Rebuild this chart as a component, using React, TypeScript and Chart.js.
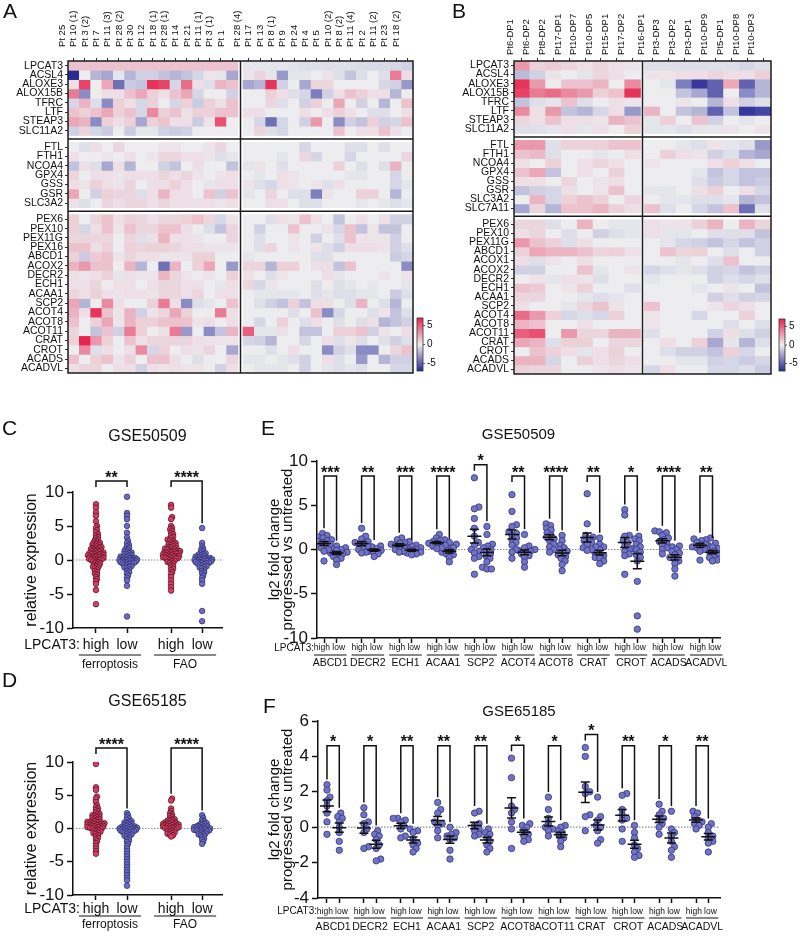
import React, { useEffect, useRef } from "react";
import { Chart, registerables } from "chart.js";

Chart.register(...registerables);

const FONT = "'Liberation Sans', Arial, Helvetica, sans-serif";
Chart.defaults.font.family = FONT;
Chart.defaults.color = "#111";

// ---------------- Panel A (heatmap) ----------------
const A_ROWS = ["LPCAT3","ACSL4","ALOXE3","ALOX15B","TFRC","LTF","STEAP3","SLC11A2",
  "FTL","FTH1","NCOA4","GPX4","GSS","GSR","SLC3A2",
  "PEX6","PEX10","PEX11G","PEX16","ABCD1","ACOX2","DECR2","ECH1","ACAA1","SCP2","ACOT4","ACOT8","ACOT11","CRAT","CROT","ACADS","ACADVL"];
const A_BLOCKS = [8, 7, 17];
const A_COLS = ["Pt 25","Pt 10 (1)","Pt 3 (2)","Pt 7","Pt 11 (3)","Pt 28 (2)","Pt 30","Pt 12","Pt 18 (1)","Pt 28 (1)","Pt 14","Pt 21","Pt 11 (1)","Pt 3 (1)","Pt 1",
  "Pt 28 (4)","Pt 17","Pt 13","Pt 8 (1)","Pt 9","Pt 24","Pt 4","Pt 5","Pt 10 (2)","Pt 8 (2)","Pt 11 (4)","Pt 2","Pt 11 (2)","Pt 23","Pt 18 (2)"];
const A_SPLIT = 15;
const A_VALUES = [
  [1.5,1.5,1.5,1.5,1.5,1.5,1.5,1.5,1.5,1.5,1.5,1.5,1.5,1.5,1.5, -0.3,-0.3,-0.3,-0.3,-0.4,-0.5,-0.5,-0.5,-0.5,-0.5,-0.6,-0.7,-0.7,-0.8,-1.0],
  [-7,0,-2,-2.5,-0.3,-2,-1,-1,-1.5,-2,-1.5,-0.8,0.3,-0.3,-2.5, 0.3,0.8,-0.3,-3,-0.3,-0.3,0,0.3,-0.5,-1.5,-0.5,0,-0.5,4,0.5],
  [0.5,6,0,2.5,-4.5,-1.2,-1.5,6.5,6,-0.8,4.5,0.5,-0.5,2,1.5, -2.5,-2,6.5,-1,0,-2.5,0.8,0.8,0,0,0,0,-0.8,-1,-3],
  [4,-3.5,0,0.5,0.5,1.5,2.5,1,0.5,1.5,2.5,-0.8,0,0,-1, 0,0,1,0.5,-0.5,-0.8,-4,-1,0.5,1.5,1,0.5,0.5,-2,0],
  [-0.8,2,-0.5,-3.5,1,0.5,-0.8,1,0,-0.8,1,-1.2,1,0.5,1.5, 0,0,0.8,-0.5,0,-1,1,0,2.5,0,-1,0,-2,0,1.5],
  [1.5,1,1.5,2.5,1,1.5,-0.8,3.5,1,1.5,0.5,1,1,1.5,1.5, 0.5,0.5,0,0,0,0.5,0,0.5,1,0.5,0,-0.5,-0.5,0,0.5],
  [2.5,2,-3.5,1,0.5,1,-2.5,1,1.5,0.5,0.5,-1.2,0.3,5.5,0, 0,-0.8,-4.5,-0.8,0,-1,3,0,-3.5,-1,-1.5,1,-1,-0.8,1.5],
  [-1,0.8,-0.8,-1.2,0,-1.2,-0.3,-0.3,-1,-1.2,-1,0,0,0,0, 0,0.8,-0.5,-0.8,0,0,0,0,1.5,0,0.5,0.5,1.5,0.5,0],
  [0,-0.5,0.5,0,0.8,0,0,0,0.3,0.3,0,0,0.3,0.8,0, 0,0,0,0,0,-0.8,0,0,0,-0.5,-0.5,0,-0.5,0,0],
  [0.5,0,0,0.3,0,0.5,0,0.3,0.8,0.8,0.5,0.5,0.3,-0.5,-0.3, 0,0,0,-0.3,0,0.8,-0.8,0,0,-0.8,0,0,0,0,0.8],
  [-1.5,0.5,-0.5,-2.5,0.5,-2,0,0,-1,-1.5,0,0.5,0,0,-1.5, -0.3,0.3,0,-0.5,0,0,0,0,1,0,-0.5,0,-0.5,2,0],
  [0.8,0,0.5,0.5,0.3,0.5,0.5,0.5,0.8,0.5,0.8,0.3,0,0.3,0.5, 0,-0.3,0,0.5,0.3,0,0,0,0,-0.3,-0.3,0,0,-0.8,0],
  [0.5,0.3,1,0.5,0.3,0.8,0,0.5,0.5,1,0.5,0,-0.3,0.5,0.5, 0.3,-0.5,-0.8,0.5,0.3,0,0.3,-0.5,0.5,0,0,0,0,-0.8,-0.3],
  [2.5,0,-1,1,0.8,0.8,-0.5,0.5,2,0.5,0.5,0,1.5,-1,1.5, -0.3,0,0.8,0,-0.5,-0.5,-4,0.3,0,0,1,1,0,-2,0],
  [0.5,-0.5,0,0.8,0.5,0.8,0.8,0.5,0.8,0.5,0.5,0.5,0.5,0.3,0.5, 0,0,0.5,0.5,0,-0.5,-0.5,0,0,0,-0.3,0,-0.3,-0.5,-0.3],
  [1,0,0.8,1.5,0.5,1,0.8,0.5,0.8,0.8,1,1.5,0.8,-0.8,0.3, 0,0,-0.5,0.5,0.3,1.5,0.5,0,-1.5,0,0.5,0,0.5,-1,-1],
  [1,-0.8,0.5,1.5,0.3,1.5,0.8,0.8,1.5,1.5,0.5,0,-0.5,-1.5,0.8, 0,-1,0,0,1.5,0,0,0.3,-0.8,1.5,-1.5,0.3,-1.5,-1.5,0],
  [0.8,0.8,0.8,0.8,0,0.8,-0.5,0.5,2,0.5,0.5,0.3,0,0,0.8, 0,-0.5,0,0,0.3,0,-1,0,-0.5,1.5,0.3,0.3,0.3,-1,0],
  [1.5,1.5,0.5,1,0,1,0.8,1,1,0.8,0.5,0.5,0.3,0.3,0.3, 0,-0.5,0.8,0,0.3,0,0.3,-0.5,-1,0.5,0.5,0.5,0.3,-1,-0.5],
  [1,-1.2,1.2,1.5,0.3,0.8,0.5,0.5,0.3,0.3,0.3,1,1,0,0, -0.3,0,0,0,0,0,-0.5,-0.5,0,0,0,0,0,-1.2,-0.8],
  [2,3,1.5,1.5,0,2,-2,0,-4.5,2,0,1,2.5,0,-3, 0.8,0.8,-2,1,1,0,0.5,0.5,-1.5,1.5,0,0,0,0,-3.5],
  [0.5,0.3,0.5,1,-0.3,0.5,0.3,0.3,2,0.8,0.3,0,0.3,0,1, 0.3,0,-0.5,0.3,0,0,0,0.5,-0.3,0,0,0,0.3,0,0.3],
  [0.5,0.5,0.8,0,0.5,0.5,0,0.5,0.8,0.8,0.5,0.5,0,-0.3,0.5, 0.8,-0.8,0.3,0,0,0,-0.5,0,-0.5,-0.3,0,-0.3,0,0,-0.3],
  [0.8,0.5,1,0.5,0.3,0.5,0.5,0.3,0.8,0.8,0.5,0.8,0,0.5,0.5, 0,-0.3,-0.3,-0.3,-0.3,0,-0.5,-0.3,-0.5,-0.5,-0.3,-0.3,0,-1.2,-0.5],
  [2.5,-2,0,3.5,0.5,0,0,1,4,0.5,-3.5,-0.5,-0.3,0,1.5, 0,-0.5,-1,-1.5,1,-1.5,0.5,0.5,0,-0.5,2,0,-0.5,-2,0],
  [2,0.5,6.5,1.5,0.3,2,-1,0.3,0.8,2.5,1,0,0,4,0.5, 0,0,0,0,-0.5,0,1.5,-3.5,-0.8,0,0,-0.5,0.3,-1.5,-0.5],
  [1.5,0,1,2.5,0.3,2,1,1,1.5,1.5,1.5,0.3,0.5,0,0.5, 0,-0.8,0,1,0,-0.5,0.5,0,-0.5,0,-0.5,0.5,-2,-1.5,-1],
  [0.8,0,-1.5,1.5,-1,4,1,0,0.5,4,-3,0,-3.5,-1.5,2, 5,-0.3,-0.3,0.5,0,-1.5,-1.5,0,1,1,1.5,-1,0.3,0,0.5],
  [1,7,3,1,0,1.5,0.5,0.8,0.8,0.8,0.8,0.5,0.3,0.3,0.3, -0.8,-1,-2,0,0,-0.8,0,0.5,-0.5,0.3,-0.5,0,-0.5,-1,-0.5],
  [0,3.5,-0.5,0.5,0,0.5,3.5,-0.8,1,0,0.5,0.3,0.8,0,-2.5, 0,0,-0.5,0,0.5,0,0,-3.5,-1,-0.5,-3.5,-3.5,0,0.8,1.5],
  [1.5,0,1,1.5,0.3,1,0,1.5,1.5,0.5,0,-0.5,0,0,0.8, -0.3,-0.3,0,-0.3,-0.5,-1,0,0.5,-0.5,0,-3,0,-2,-1,-1],
  [0.5,0.8,0.8,0,0.5,0.5,-1,0.5,0.3,0.5,0.3,0.3,0,-1,0.5, 0,-0.3,-0.3,-0.3,0,-1,0,-0.3,-0.5,-0.3,-0.5,0,0,-0.8,-0.8],
];

// ---------------- Panel B (heatmap) ----------------
const B_ROWS = ["LPCAT3","ACSL4","ALOXE3","ALOX15B","TFRC","LTF","STEAP3","SLC11A2",
  "FTL","FTH1","NCOA4","GPX4","GSS","GSR","SLC3A2","SLC7A11",
  "PEX6","PEX10","PEX11G","ABCD1","ACOX1","ACOX2","DECR2","ECH1","ACAA1","SCP2","ACOT4","ACOT8","ACOT11","CRAT","CROT","ACADS","ACADVL"];
const B_BLOCKS = [8, 8, 17];
const B_COLS = ["Pt6-DP1","Pt6-DP2","Pt8-DP2","Pt17-DP1","Pt10-DP7","Pt10-DP5","Pt15-DP1","Pt17-DP2",
  "Pt16-DP1","Pt3-DP3","Pt3-DP2","Pt3-DP1","Pt10-DP9","Pt5-DP1","Pt10-DP8","Pt10-DP3"];
const B_SPLIT = 8;
const B_VALUES = [
  [3,1,1.2,0.8,0.5,0.8,0.5,0.3, -0.5,-0.5,-0.5,-0.5,-0.5,-0.5,-0.8,-0.5],
  [-1.8,-1,0.3,0,-0.3,0.8,0.5,0, 0.3,0.3,0.5,0.5,0.8,0.5,0.5,1],
  [6.5,3,0,1.5,1.5,2,0,3.5, 0,-0.3,-4,-6.5,-5,2.5,-5,-2],
  [6,4,4.5,3.5,3,1,1.5,6.5, 0,0,-1.5,-2.5,-5,0,-3.5,-2],
  [-1.5,-0.5,-0.3,1.5,-0.5,0,0.5,0.3, 0,0,0.3,0,-2,0.5,-1,-0.5],
  [3.5,0.5,3,-1.5,-2,-0.8,0.5,-3, 2,0,-1.5,-2,-5,-1.5,-6.5,-6],
  [0.8,0.5,1.5,0.5,0.5,0.3,2,1.5, -0.3,1,0,1.5,-1,0,-0.3,0],
  [-0.5,-0.5,-0.3,0.5,-0.3,0.5,0,1, -0.3,-0.3,-0.5,-0.3,-0.3,0.3,0,0.3],
  [3,3,-0.5,1,1,1,1.5,1.5, 0,0,-0.3,-0.5,0.3,-0.3,-0.5,-3],
  [1.5,1.8,-0.5,0,0,-0.3,0,0.5, 0,1,0.5,0.3,-1,-0.5,-2,-2.5],
  [0.5,0,1,0,0.5,0.8,0.5,0, 0.3,0,0,0,0.5,1,0.5,0],
  [1.5,2.5,-1.5,0,0.5,0,1,0, 0,0,0,-0.3,-1.5,-0.8,-1.5,-1.5],
  [0.5,0.5,0,0.8,0,0.3,0.5,0, 0,0,0,-0.5,-1.2,-0.8,-1.5,-1.2],
  [-1.5,-1,-0.8,0.5,0,0.3,1.5,0, -0.3,-0.3,0,0.5,1,0,0.5,-0.8],
  [0,2,-0.8,1,1.5,1,0,0.8, 0,-0.3,-0.3,-0.5,-0.5,-0.3,-2,-1.5],
  [-2.5,0.8,-2,1.5,1.5,2,1,0.5, 1.5,-0.5,0,-0.8,-1.5,1.5,-4.5,-0.5],
  [0.8,0.8,-0.5,0,2,0,-0.3,-0.3, 0.5,0.3,0.3,1,2,0,2,0.8],
  [0.5,0.8,0,-0.5,0,-1,-0.5,-0.3, 0.5,-0.3,-0.3,0,-0.5,-0.5,-0.5,-1.5],
  [3,1.5,1,-0.5,0.5,0,0,0, 0,-0.3,-0.8,-1,-1.5,-0.8,-1.5,-1],
  [1,2.5,2,2,1.5,0.8,1,0.5, 0,1.5,0.8,1,0,-0.5,0,-1],
  [0.5,-0.5,0.3,0,0.5,0,0,0, 0,0,-0.3,0,-0.5,1.5,0,0],
  [-1,-1,0,0,1.5,-0.3,0,0.3, -0.8,-0.5,-0.3,-0.5,-1,-0.8,-1.5,-1],
  [0,0.3,-0.3,0.5,0.3,-0.5,0,0, -0.3,0,0,0,-1,-0.5,-0.8,-0.5],
  [1.5,1.2,0,0.3,1,0,0,-0.5, 0,0,0,-0.3,0,0.3,0,-1.5],
  [0.8,0.8,0,0,-0.3,-0.5,-0.3,0, 0,0,0,0,-1,-0.5,-1,-0.8],
  [0.5,0,0,-0.3,0.8,1.5,0.3,0, 1.5,0,0,0,0.3,0.8,0.5,0],
  [4.5,3,1,-0.8,-0.5,-0.8,1,0, 0.3,0,0,-0.8,0,0,1,0],
  [2,1.5,0,0,0.5,0,0,0, 0.3,0,0,0,0,-0.5,0,-0.5],
  [5,5.5,0,3,0.8,0.8,2,2, -0.5,0,0,0,-1,0.5,-0.5,-1],
  [2.5,2,-0.5,1,1,0,0.8,0.8, 0,0.5,0,1,-2.5,-0.3,-2,-0.5],
  [0,1.5,1,0.5,-0.3,0.5,1,0, 0,-0.5,-1,-1,-1.5,1,-0.8,0],
  [2,2,-0.8,0,1,0.5,0.8,0.5, 0,0,-0.3,-0.3,-1,-0.8,-1.2,-0.8],
  [1,0.8,0.8,0,0,0.3,0.5,0.3, -0.8,0.5,0,0,-0.8,-0.8,-0.5,-1.2],
];

const COLOR_MIN = -7;
const COLOR_MAX = 7;
const COLORBAR_TICKS = [5, 0, -5];

// ---------------- Panels C / D (relative expression) ----------------
const CD_LEVELS = ["high", "low", "high", "low"];
const CD_GROUP_NAMES = ["ferroptosis", "FAO"];
const C_STARS = ["**", "****"];
const D_STARS = ["****", "****"];
const C_FERRO_HIGH = [8.2,7.7,7.0,6.5,5.7,5.0,4.7,4.4,4.1,3.8,3.6,3.4,3.2,3.0,2.9,2.7,2.6,2.5,2.4,2.3,2.2,2.1,2.0,1.9,1.8,1.8,1.7,1.6,1.5,1.5,1.4,1.3,1.3,1.2,1.1,1.1,1.0,1.0,0.9,0.9,0.8,0.8,0.7,0.7,0.6,0.6,0.5,0.5,0.4,0.4,0.3,0.3,0.2,0.2,0.1,0.1,0.0,0.0,-0.1,-0.2,-0.3,-0.4,-0.5,-0.6,-0.7,-0.8,-0.9,-1.0,-1.1,-1.2,-1.4,-1.6,-1.8,-2.0,-2.2,-2.5,-2.8,-3.1,-3.5,-4.4,-6.5];
const C_FERRO_LOW = [9.3,6.9,6.5,6.0,5.0,4.0,3.3,2.8,2.5,2.2,2.0,1.8,1.6,1.5,1.3,1.2,1.1,1.0,0.9,0.8,0.7,0.6,0.5,0.5,0.4,0.3,0.3,0.2,0.2,0.1,0.1,0.0,0.0,0.0,-0.1,-0.1,-0.2,-0.2,-0.3,-0.3,-0.4,-0.4,-0.5,-0.5,-0.6,-0.7,-0.8,-0.9,-1.0,-1.1,-1.2,-1.4,-1.6,-1.8,-2.0,-2.3,-2.6,-3.0,-3.8,-8.3];
const C_FAO_HIGH = [8.1,7.7,6.3,6.0,5.0,4.7,4.5,4.3,4.0,3.8,3.6,3.4,3.2,3.0,2.9,2.8,2.6,2.5,2.4,2.3,2.2,2.1,2.0,1.9,1.8,1.7,1.7,1.6,1.5,1.5,1.4,1.3,1.3,1.2,1.2,1.1,1.1,1.0,1.0,0.9,0.9,0.8,0.8,0.7,0.7,0.6,0.6,0.5,0.5,0.4,0.4,0.3,0.3,0.2,0.2,0.1,0.0,-0.1,-0.2,-0.3,-0.4,-0.5,-0.7,-0.9,-1.1,-1.3,-1.5,-1.8,-2.1,-2.5,-3.0,-3.5,-4.0,-4.5];
const C_FAO_LOW = [4.7,2.5,2.0,1.7,1.5,1.3,1.1,1.0,0.9,0.8,0.7,0.6,0.5,0.4,0.4,0.3,0.3,0.2,0.2,0.1,0.1,0.0,0.0,0.0,-0.1,-0.1,-0.2,-0.2,-0.3,-0.3,-0.4,-0.4,-0.5,-0.5,-0.6,-0.7,-0.8,-0.9,-1.0,-1.1,-1.2,-1.4,-1.6,-1.8,-2.0,-2.3,-2.6,-3.0,-3.5,-7.5,-9.0];
const D_FERRO_HIGH = [9.7,6.2,5.8,4.8,4.5,4.0,3.5,3.2,3.0,2.8,2.6,2.4,2.2,2.1,2.0,1.9,1.8,1.7,1.6,1.5,1.4,1.3,1.2,1.1,1.0,1.0,0.9,0.9,0.8,0.8,0.7,0.7,0.6,0.6,0.5,0.5,0.4,0.4,0.3,0.3,0.2,0.2,0.1,0.1,0.0,0.0,-0.1,-0.2,-0.3,-0.4,-0.5,-0.6,-0.7,-0.8,-1.0,-1.2,-1.4,-1.6,-1.9,-2.2,-2.6,-3.0,-3.4,-3.8];
const D_FERRO_LOW = [2.3,2.0,1.7,1.5,1.3,1.1,1.0,0.9,0.8,0.7,0.6,0.5,0.4,0.3,0.3,0.2,0.2,0.1,0.1,0.0,0.0,0.0,-0.1,-0.1,-0.2,-0.2,-0.3,-0.3,-0.4,-0.4,-0.5,-0.5,-0.6,-0.7,-0.8,-0.9,-1.0,-1.1,-1.2,-1.4,-1.6,-1.8,-2.0,-2.3,-2.6,-3.0,-3.4,-3.8,-4.2,-4.6,-5.0,-5.4,-5.8,-6.2,-6.6,-7.0,-7.4,-7.8,-8.6];
const D_FAO_HIGH = [4.5,4.2,3.0,2.6,2.3,2.1,1.9,1.7,1.5,1.4,1.3,1.2,1.1,1.0,0.9,0.9,0.8,0.8,0.7,0.7,0.6,0.6,0.5,0.5,0.4,0.4,0.3,0.3,0.2,0.2,0.1,0.1,0.0,0.0,-0.1,-0.2,-0.3,-0.4,-0.5,-0.6,-0.7,-0.8,-0.9,-1.0,-1.2];
const D_FAO_LOW = [2.0,1.6,1.3,1.1,0.9,0.8,0.7,0.6,0.5,0.4,0.3,0.3,0.2,0.2,0.1,0.1,0.0,0.0,-0.1,-0.1,-0.2,-0.2,-0.3,-0.3,-0.4,-0.4,-0.5,-0.6,-0.7,-0.8,-0.9,-1.0,-1.1,-1.3,-1.5,-1.7,-2.0,-2.3];

// ---------------- Panel E (GSE50509, lg2 fold change) ----------------
const EF_LEVELS = ["high\u2002", "\u2002low"];
const E_GENES = ["ABCD1","DECR2","ECH1","ACAA1","SCP2","ACOT4","ACOT8","CRAT","CROT","ACADS","ACADVL"];
const E_STARS = ["***","**","***","****","*","**","****","**","*","****","**"];
const E_HIGH = [
  [1.8,1.6,1.4,1.3,1.1,1.0,0.9,0.8,0.6,0.4,0.2,0.0,-0.2,-1.3],
  [2.4,1.5,1.2,0.9,0.8,0.7,0.5,0.4,0.2,0.0,-0.3,-0.4],
  [1.3,1.1,0.9,0.8,0.7,0.6,0.5,0.3,0.2,0.0,-0.2,-0.3],
  [1.7,1.3,1.1,1.0,0.9,0.8,0.7,0.6,0.5,0.4,0.2,0.1],
  [8.1,4.8,4.6,3.5,2.4,1.5,0.8,0.5,0.0,-0.2,-0.4,-0.8,-1.0,-2.8],
  [6.2,4.3,2.8,2.6,2.0,1.8,1.6,1.3,1.1,0.8,0.5,0.0,-0.3,-1.0],
  [2.9,2.7,2.4,2.2,1.9,1.6,1.4,1.2,1.0,0.6,0.3,0.0,-0.3],
  [6.3,2.9,1.6,1.4,1.2,1.0,0.8,0.6,0.3,0.2,0.0,-0.1],
  [4.5,3.9,1.6,1.5,1.0,0.8,0.4,0.0,-0.2,-0.5,-0.7,-2.8],
  [2.1,2.0,1.9,1.6,1.3,1.1,0.9,0.7,0.5,0.2,0.0,-0.5],
  [1.3,1.2,1.1,1.0,0.8,0.6,0.5,0.3,0.2,0.0,-0.2,-1.2],
];
const E_LOW = [
  [0.4,0.3,0.2,0.1,0.0,-0.1,-0.3,-0.4,-0.5,-0.6,-0.8,-1.0,-1.2,-1.7],
  [0.5,0.4,0.3,0.1,0.0,-0.1,-0.2,-0.3,-0.5,-0.8],
  [0.5,0.4,0.2,0.1,0.0,-0.1,-0.2,-0.3,-0.4,-0.5,-0.6],
  [0.6,0.5,0.3,0.2,0.0,-0.2,-0.3,-0.5,-0.6,-0.9,-1.4],
  [2.6,1.7,0.6,0.4,0.2,0.0,-0.2,-0.5,-0.7,-1.0,-1.4,-2.0,-2.2,-2.2],
  [1.7,0.4,0.2,0.0,-0.1,-0.2,-0.3,-0.5,-0.7,-0.9,-1.4,-2.0],
  [1.6,1.0,0.5,0.2,0.0,-0.2,-0.4,-0.6,-0.8,-1.0,-1.3,-1.7,-2.4],
  [1.3,0.6,0.3,0.0,-0.3,-0.5,-0.7,-0.9,-1.0,-1.3,-1.6],
  [1.5,1.2,1.0,0.6,0.3,0.1,0.0,-0.3,-0.6,-0.9,-1.3,-3.6,-7.5,-9.0],
  [0.4,0.3,0.0,-0.2,-0.4,-0.6,-0.9,-1.1,-1.3,-1.6,-2.2,-3.0],
  [0.7,0.5,0.3,0.1,0.0,-0.2,-0.4,-0.5,-0.7,-0.9,-1.2,-1.3],
];

// ---------------- Panel F (GSE65185, lg2 fold change) ----------------
const F_GENES = ["ABCD1","DECR2","ECH1","ACAA1","SCP2","ACOT8","ACOT11","CRAT","CROT","ACADS","ACADVL"];
const F_STARS = ["*","*","**","**","**","*","*","*","**","*","**"];
const F_HIGH = [
  [2.4,2.1,1.7,1.5,1.2,0.8,0.3,-0.4],
  [1.1,0.7,0.3,0.2,-0.1,-0.3,-1.1,-1.2],
  [0.5,0.5,0.4,0.3,0.1,-0.1,-0.5,-0.6],
  [1.4,1.0,0.8,0.3,0.2,0.1,-0.2,-0.6],
  [0.9,0.8,0.2,0.1,-0.1,-0.2,-0.4,-0.5],
  [3.9,2.8,1.2,1.0,0.8,0.3,-0.1,-1.2],
  [1.7,1.0,0.5,0.2,0.0,-0.1,-0.2,-0.5],
  [4.5,4.0,2.3,2.0,1.9,0.7,0.6,-0.2],
  [1.9,1.8,1.0,0.7,0.5,0.4,-0.1,-0.8],
  [1.3,0.9,0.7,0.5,0.4,0.2,0.0,-0.4],
  [0.9,0.8,0.6,0.4,0.3,0.2,0.1,-0.1],
];
const F_LOW = [
  [0.8,0.6,0.5,0.3,0.0,-0.3,-0.8,-1.3],
  [-0.2,-0.4,-0.5,-0.7,-1.0,-1.2,-1.8,-1.9],
  [-0.1,-0.2,-0.3,-0.7,-0.9,-1.0,-1.2,-1.4],
  [0.0,-0.3,-0.4,-0.5,-0.6,-0.7,-1.3,-1.8],
  [-0.1,-0.3,-0.4,-0.6,-0.8,-1.0,-1.2,-1.4],
  [0.2,0.1,0.0,-0.2,-0.4,-0.5,-0.7,-0.8],
  [0.1,0.0,-0.2,-0.3,-0.5,-0.6,-0.8,-1.1],
  [1.7,0.6,0.4,0.1,0.0,-0.2,-0.7,-0.9],
  [0.1,-0.3,-0.6,-1.0,-1.2,-1.4,-1.6,-1.7],
  [0.9,-0.1,-0.3,-0.5,-0.8,-1.1,-1.3,-1.7],
  [0.2,0.0,-0.3,-0.5,-0.6,-0.8,-0.9,-1.4],
];

// ---------------- styling ----------------
const RED_FILL = "#d93d63";
const RED_EDGE = "#4d1122";
const BLUE_FILL = "#6c6dc2";
const BLUE_EDGE = "#272866";
const EF_FILL = "#7173c6";
const EF_EDGE = "#35367a";
const HEAT_MID = [237, 237, 240];
const HEAT_POS = [231, 38, 80];
const HEAT_NEG = [40, 42, 150];

function heatColor(v: number): string {
  const t = Math.max(-1, Math.min(1, v / COLOR_MAX));
  const end = t >= 0 ? HEAT_POS : HEAT_NEG;
  const a = Math.abs(t);
  const c = HEAT_MID.map((m, i) => Math.round(m + (end[i] - m) * a));
  return `rgb(${c[0]},${c[1]},${c[2]})`;
}

function heatmapConfig(o: any): any {
  const rowStart: number[] = [];
  const seps: number[] = [];
  let pos = 0;
  o.blocks.forEach((n: number, b: number) => {
    if (b > 0) { seps.push(pos + o.rowGap / 2); pos += o.rowGap; }
    for (let k = 0; k < n; k++) { rowStart.push(pos); pos += 1; }
  });
  const rowMax = pos;
  const colStart = o.cols.map((_: string, j: number) => j + (j >= o.split ? o.colGap : 0));
  const colMax = o.cols.length + o.colGap;
  const colSep = o.split + o.colGap / 2;
  const datasets = o.rows.map((name: string, i: number) => ({
    type: "bar",
    label: name,
    data: colStart.map((c: number) => ({ x: c + 0.5, y: [rowStart[i], rowStart[i] + 1] })),
    backgroundColor: o.values[i].map(heatColor),
    borderWidth: 0,
    grouped: false,
    barPercentage: 1,
    categoryPercentage: 1,
  }));
  const frame = {
    id: "heatFrame",
    afterDatasetsDraw(chart: any) {
      const { ctx, chartArea: a, scales } = chart;
      ctx.save();
      ctx.strokeStyle = "#1c1c1c";
      ctx.lineWidth = 1.5;
      ctx.strokeRect(a.left, a.top, a.right - a.left, a.bottom - a.top);
      ctx.beginPath();
      seps.forEach((v) => {
        const py = scales.y.getPixelForValue(v);
        ctx.moveTo(a.left, py); ctx.lineTo(a.right, py);
      });
      const px = scales.x.getPixelForValue(colSep);
      ctx.moveTo(px, a.top); ctx.lineTo(px, a.bottom);
      ctx.stroke();
      // colour bar
      const cb = o.colorbar;
      const x0 = a.right + cb.dx;
      const yb = a.bottom - cb.dyBottom;
      const yt = yb - cb.h;
      const g = ctx.createLinearGradient(0, yb, 0, yt);
      const steps = 14;
      for (let s = 0; s <= steps; s++) {
        g.addColorStop(s / steps, heatColor(COLOR_MIN + (COLOR_MAX - COLOR_MIN) * s / steps));
      }
      ctx.fillStyle = g;
      ctx.fillRect(x0, yt, cb.w, cb.h);
      ctx.lineWidth = 0.8;
      ctx.strokeStyle = "#333";
      ctx.strokeRect(x0, yt, cb.w, cb.h);
      ctx.fillStyle = "#111";
      ctx.font = `10px ${FONT}`;
      ctx.textBaseline = "middle";
      ctx.textAlign = "left";
      COLORBAR_TICKS.forEach((v) => {
        const py = yb - ((v - COLOR_MIN) / (COLOR_MAX - COLOR_MIN)) * cb.h;
        ctx.beginPath(); ctx.moveTo(x0 + cb.w, py); ctx.lineTo(x0 + cb.w + 2, py); ctx.stroke();
        ctx.fillText(String(v), x0 + cb.w + 4, py);
      });
      ctx.restore();
    },
  };
  return {
    type: "bar",
    data: { datasets },
    options: {
      responsive: false,
      animation: false,
      events: [],
      layout: { padding: { left: 0, top: 0, right: o.padRight, bottom: o.padBottom } },
      plugins: { legend: { display: false }, tooltip: { enabled: false }, title: { display: false } },
      scales: {
        x: {
          type: "linear", position: "top", min: 0, max: colMax, offset: false,
          grid: { display: true, drawOnChartArea: false, drawTicks: true, tickLength: 3, color: "#333", offset: false },
          border: { display: false },
          afterBuildTicks: (ax: any) => { ax.ticks = colStart.map((c: number) => ({ value: c + 0.5 })); },
          afterFit: (ax: any) => { ax.height = o.xAxisH; },
          ticks: { autoSkip: false, minRotation: 90, maxRotation: 90, padding: o.colLabelPad, font: { size: 9.5 }, color: "#111",
            callback: (_v: any, i: number) => o.cols[i] },
        },
        y: {
          type: "linear", reverse: true, min: 0, max: rowMax, offset: false,
          grid: { display: true, drawOnChartArea: false, tickLength: 3, color: "#333" },
          border: { display: false },
          afterBuildTicks: (ax: any) => { ax.ticks = rowStart.map((r) => ({ value: r + 0.5 })); },
          afterFit: (ax: any) => { ax.width = o.yAxisW; },
          ticks: { autoSkip: false, padding: 2, font: { size: 10.5 }, color: "#111",
            callback: (_v: any, i: number) => o.rows[i] },
        },
      },
    },
    plugins: [frame],
  };
}

function beeswarm(values: number[], pxPerY: number, d: number, step: number): number[] {
  const idx = values.map((_, i) => i).sort((a, b) => values[a] - values[b]);
  const placed: { x: number; y: number }[] = [];
  const out = new Array(values.length).fill(0);
  for (const i of idx) {
    const y = values[i] * pxPerY;
    let off = 0;
    for (let k = 0; k < 600; k++) {
      const cand = k === 0 ? 0 : (k % 2 ? 1 : -1) * Math.ceil(k / 2) * step;
      let ok = true;
      for (const p of placed) {
        const dx = p.x - cand, dy = p.y - y;
        if (dx * dx + dy * dy < d * d) { ok = false; break; }
      }
      if (ok) { off = cand; break; }
    }
    placed.push({ x: off, y });
    out[i] = off;
  }
  return out;
}

function dotPanelConfig(o: any): any {
  const plotW = o.W - o.yAxisW - o.padRight;
  const plotH = o.H - o.padTop - o.xAxisH;
  const pxPerX = plotW / (o.xMax - o.xMin);
  const pxPerY = plotH / (o.yMax - o.yMin);
  const datasets = o.groups.map((vals: number[], g: number) => {
    const offs = beeswarm(vals, pxPerY, o.swarmD, 0.5);
    return {
      type: "scatter",
      data: vals.map((v, k) => ({ x: o.gx[g] + offs[k] / pxPerX, y: v })),
      backgroundColor: o.fills[g],
      borderColor: o.strokes[g],
      borderWidth: o.dotBorder,
      pointRadius: o.radius,
      pointHoverRadius: o.radius,
    };
  });
  const tickCenterY = (a: any) => a.bottom + 5 + o.xTickPad + (o.xTickFont * 1.2) / 2;
  const anno = {
    id: "dotAnno",
    beforeDatasetsDraw(chart: any) {
      const { ctx, chartArea: a, scales } = chart;
      const py = scales.y.getPixelForValue(0);
      ctx.save();
      ctx.strokeStyle = "#8c8c8c";
      ctx.lineWidth = 1.2;
      ctx.setLineDash([1.5, 1.5]);
      ctx.beginPath(); ctx.moveTo(a.left, py); ctx.lineTo(a.right, py); ctx.stroke();
      ctx.restore();
    },
    afterDatasetsDraw(chart: any) {
      const { ctx, chartArea: a, scales } = chart;
      const x = scales.x, y = scales.y;
      ctx.save();
      ctx.strokeStyle = "#111";
      ctx.fillStyle = "#111";
      ctx.lineWidth = 1.5;
      ctx.setLineDash([]);
      if (o.meanSem) {
        o.groups.forEach((vals: number[], g: number) => {
          const n = vals.length;
          const m = vals.reduce((s, v) => s + v, 0) / n;
          const sd = Math.sqrt(vals.reduce((s, v) => s + (v - m) * (v - m), 0) / (n - 1));
          const se = sd / Math.sqrt(n);
          const px = x.getPixelForValue(o.gx[g]);
          const pm = y.getPixelForValue(m), p1 = y.getPixelForValue(m + se), p2 = y.getPixelForValue(m - se);
          ctx.beginPath();
          ctx.moveTo(px - o.meanHalf, pm); ctx.lineTo(px + o.meanHalf, pm);
          ctx.moveTo(px, p1); ctx.lineTo(px, p2);
          ctx.moveTo(px - o.capHalf, p1); ctx.lineTo(px + o.capHalf, p1);
          ctx.moveTo(px - o.capHalf, p2); ctx.lineTo(px + o.capHalf, p2);
          ctx.stroke();
        });
      }
      ctx.font = `bold 16px ${FONT}`;
      ctx.textAlign = "center";
      ctx.textBaseline = "alphabetic";
      o.pairs.forEach((pr: number[], k: number) => {
        const [ga, gb] = pr;
        const xa = x.getPixelForValue(o.gx[ga]);
        const xb = x.getPixelForValue(o.gx[gb]);
        const ma = y.getPixelForValue(Math.max(...o.groups[ga]));
        const mb = y.getPixelForValue(Math.max(...o.groups[gb]));
        const top = Math.min(a.top + o.bracketBase, Math.min(ma, mb) - 13);
        const legA = ma - top > 30 ? ma - o.radius - 2 : top + 6;
        const legB = mb - top > 30 ? mb - o.radius - 2 : top + 6;
        ctx.beginPath();
        ctx.moveTo(xa, legA); ctx.lineTo(xa, top); ctx.lineTo(xb, top); ctx.lineTo(xb, legB);
        ctx.stroke();
        const s = o.stars[k];
        const mt = ctx.measureText(s);
        const asc = mt.actualBoundingBoxAscent, desc = mt.actualBoundingBoxDescent;
        const cy = top - 7;
        ctx.fillText(s, (xa + xb) / 2, cy + (asc - desc) / 2);
      });
      ctx.restore();
    },
    afterDraw(chart: any) {
      const { ctx, chartArea: a, scales } = chart;
      const x = scales.x;
      ctx.save();
      ctx.fillStyle = "#111";
      ctx.strokeStyle = "#111";
      // title
      ctx.font = `${o.titleFont}px ${FONT}`;
      ctx.textAlign = "center";
      ctx.textBaseline = "middle";
      ctx.fillText(o.title, (a.left + a.right) / 2, a.top - o.titleDy);
      // prefix
      ctx.font = `${o.prefixFont}px ${FONT}`;
      ctx.textAlign = "right";
      ctx.fillText(o.prefix, x.getPixelForValue(o.gx[0]) - o.prefixGap, tickCenterY(a));
      // underlines and group names
      ctx.lineWidth = 1;
      ctx.font = `${o.nameFont}px ${FONT}`;
      ctx.textAlign = "center";
      o.underPairs.forEach((pr: number[], k: number) => {
        const x1 = x.getPixelForValue(o.gx[pr[0]]) - o.ulL;
        const x2 = x.getPixelForValue(o.gx[pr[1]]) + o.ulR;
        const uy = a.bottom + o.ulDy;
        ctx.beginPath(); ctx.moveTo(x1, uy); ctx.lineTo(x2, uy); ctx.stroke();
        ctx.fillText(o.underNames[k], (x1 + x2) / 2, a.bottom + o.nameDy);
      });
      ctx.restore();
    },
  };
  return {
    type: "scatter",
    data: { datasets },
    options: {
      responsive: false,
      animation: false,
      events: [],
      layout: { padding: { left: 0, top: o.padTop, right: o.padRight, bottom: 0 } },
      plugins: { legend: { display: false }, tooltip: { enabled: false }, title: { display: false } },
      scales: {
        x: {
          type: "linear", min: o.xMin, max: o.xMax,
          afterBuildTicks: (ax: any) => { ax.ticks = o.gx.map((v: number) => ({ value: v })); },
          afterFit: (ax: any) => { ax.height = o.xAxisH; },
          grid: { display: true, drawOnChartArea: false, drawTicks: true, tickLength: 5, tickWidth: 1.5, tickColor: "#111", color: "#111" },
          border: { display: true, color: "#111", width: 1.5 },
          ticks: { autoSkip: false, maxRotation: 0, minRotation: 0, padding: o.xTickPad, font: { size: o.xTickFont }, color: "#111",
            callback: (_v: any, i: number) => o.tickLabels[i] },
        },
        y: {
          type: "linear", min: o.yMin, max: o.yMax,
          afterFit: (ax: any) => { ax.width = o.yAxisW; },
          grid: { display: true, drawOnChartArea: false, drawTicks: true, tickLength: 6, tickWidth: 1.5, tickColor: "#111", color: "#111" },
          border: { display: true, color: "#111", width: 1.5 },
          ticks: { stepSize: o.yStep, padding: 3, font: { size: o.yTickFont }, color: "#111" },
          title: { display: true, text: o.yTitle, color: "#111", font: { size: o.yTitleFont, lineHeight: o.yTitleLH },
            padding: { top: o.yTitlePad, bottom: 0 } },
        },
      },
    },
    plugins: [anno],
  };
}

function cdConfig(title: string, groups: number[][], stars: string[], geom: any): any {
  return dotPanelConfig({
    title, titleFont: 16,
    groups, gx: [0, 1, 2.42, 3.42],
    fills: [RED_FILL, BLUE_FILL, RED_FILL, BLUE_FILL],
    strokes: [RED_EDGE, BLUE_EDGE, RED_EDGE, BLUE_EDGE],
    radius: 2.8, dotBorder: 0.7, swarmD: 2.2,
    pairs: [[0, 1], [2, 3]], stars,
    W: 232, yAxisW: 73, padRight: 10,
    xMin: -0.74, xMax: 4.06, yMin: -10, yMax: 10, yStep: 5, yTickFont: 17,
    tickLabels: CD_LEVELS, xTickFont: 14,
    prefix: "LPCAT3:", prefixFont: 14, prefixGap: 16,
    underPairs: [[0, 1], [2, 3]], underNames: CD_GROUP_NAMES, nameFont: 12, ulL: 17, ulR: 14,
    yTitle: "relative expression", yTitleFont: 16, yTitleLH: 1, yTitlePad: 24,
    meanSem: false,
    ...geom,
  });
}

function efConfig(title: string, genes: string[], high: number[][], low: number[][], stars: string[], geom: any): any {
  const groups: number[][] = [];
  const gx: number[] = [];
  const pairs: number[][] = [];
  const labels: string[] = [];
  genes.forEach((_, k) => {
    groups.push(high[k], low[k]);
    gx.push(3 * k, 3 * k + 1);
    pairs.push([2 * k, 2 * k + 1]);
    labels.push(EF_LEVELS[0], EF_LEVELS[1]);
  });
  return dotPanelConfig({
    title, titleFont: 15,
    groups, gx,
    fills: groups.map(() => EF_FILL), strokes: groups.map(() => EF_EDGE),
    radius: 3.2, dotBorder: 0.8, swarmD: 4.4,
    pairs, stars,
    W: 570, padRight: 80, yTickFont: 17,
    tickLabels: labels, xTickFont: 8.5,
    prefix: "LPCAT3:", prefixFont: 10, prefixGap: 10,
    underPairs: pairs, underNames: genes, nameFont: 10.5, ulL: 10, ulR: 10,
    yTitle: ["lg2 fold change", "progressed vs untreated"], yTitleFont: 15, yTitleLH: 0.85, yTitlePad: 38.6,
    meanSem: true, meanHalf: 7, capHalf: 4.5,
    ...geom,
  });
}

function ChartBox({ left, top, width, height, make }: any) {
  const ref = useRef<HTMLCanvasElement>(null);
  useEffect(() => {
    const chart = new Chart(ref.current as HTMLCanvasElement, make());
    return () => chart.destroy();
  }, []);
  return (
    <canvas ref={ref} width={width} height={height}
      style={{ position: "absolute", left, top, width, height, display: "block" }} />
  );
}

const LETTERS: [string, number, number][] = [["A", 3, 0], ["B", 452, 0], ["C", 2, 417], ["D", 2, 669], ["E", 261, 417], ["F", 263, 695]];

export default function App() {
  return (
    <div style={{ position: "absolute", left: 0, top: 0, width: 800, height: 936, background: "#fff", overflow: "hidden" }}>
      <ChartBox left={0} top={0} width={440} height={385}
        make={() => heatmapConfig({ rows: A_ROWS, blocks: A_BLOCKS, cols: A_COLS, split: A_SPLIT, values: A_VALUES,
          rowGap: 0.75, colGap: 0.45, yAxisW: 68, xAxisH: 61, padRight: 27, padBottom: 12, colLabelPad: 11,
          colorbar: { dx: 4, w: 6, h: 53, dyBottom: 2 } })} />
      <ChartBox left={440} top={0} width={360} height={385}
        make={() => heatmapConfig({ rows: B_ROWS, blocks: B_BLOCKS, cols: B_COLS, split: B_SPLIT, values: B_VALUES,
          rowGap: 0.75, colGap: 0.25, yAxisW: 74, xAxisH: 61, padRight: 29, padBottom: 11, colLabelPad: 3,
          colorbar: { dx: 8, w: 6, h: 52, dyBottom: 3 } })} />
      <ChartBox left={0} top={425} width={232} height={255}
        make={() => cdConfig("GSE50509", [C_FERRO_HIGH, C_FERRO_LOW, C_FAO_HIGH, C_FAO_LOW], C_STARS,
          { H: 255, padTop: 67, xAxisH: 52, titleDy: 55, bracketBase: -11, xTickPad: 3.6, ulDy: 27, nameDy: 36.5 })} />
      <ChartBox left={0} top={690} width={232} height={246}
        make={() => cdConfig("GSE65185", [D_FERRO_HIGH, D_FERRO_LOW, D_FAO_HIGH, D_FAO_LOW], D_STARS,
          { H: 246, padTop: 72, xAxisH: 41, titleDy: 60, bracketBase: -14, xTickPad: 0.6, ulDy: 21, nameDy: 30 })} />
      <ChartBox left={230} top={425} width={570} height={255}
        make={() => efConfig("GSE50509", E_GENES, E_HIGH, E_LOW, E_STARS,
          { H: 255, yAxisW: 87, padTop: 36, xAxisH: 42, xMin: -0.56, xMax: 31.6, yMin: -10, yMax: 10, yStep: 5,
            titleDy: 26, bracketBase: 15, xTickPad: 0, ulDy: 17, nameDy: 25.5 })} />
      <ChartBox left={230} top={690} width={570} height={246}
        make={() => efConfig("GSE65185", F_GENES, F_HIGH, F_LOW, F_STARS,
          { H: 246, yAxisW: 88, padTop: 31, xAxisH: 38, xMin: -0.73, xMax: 31.95, yMin: -4, yMax: 6, yStep: 2,
            titleDy: 9.5, bracketBase: 24.7, xTickPad: 3.6, ulDy: 20, nameDy: 29 })} />
      {LETTERS.map(([t, l, tp]) => (
        <div key={t} style={{ position: "absolute", left: l, top: tp, fontFamily: FONT, fontSize: 21, lineHeight: "21px", color: "#111" }}>{t}</div>
      ))}
    </div>
  );
}
